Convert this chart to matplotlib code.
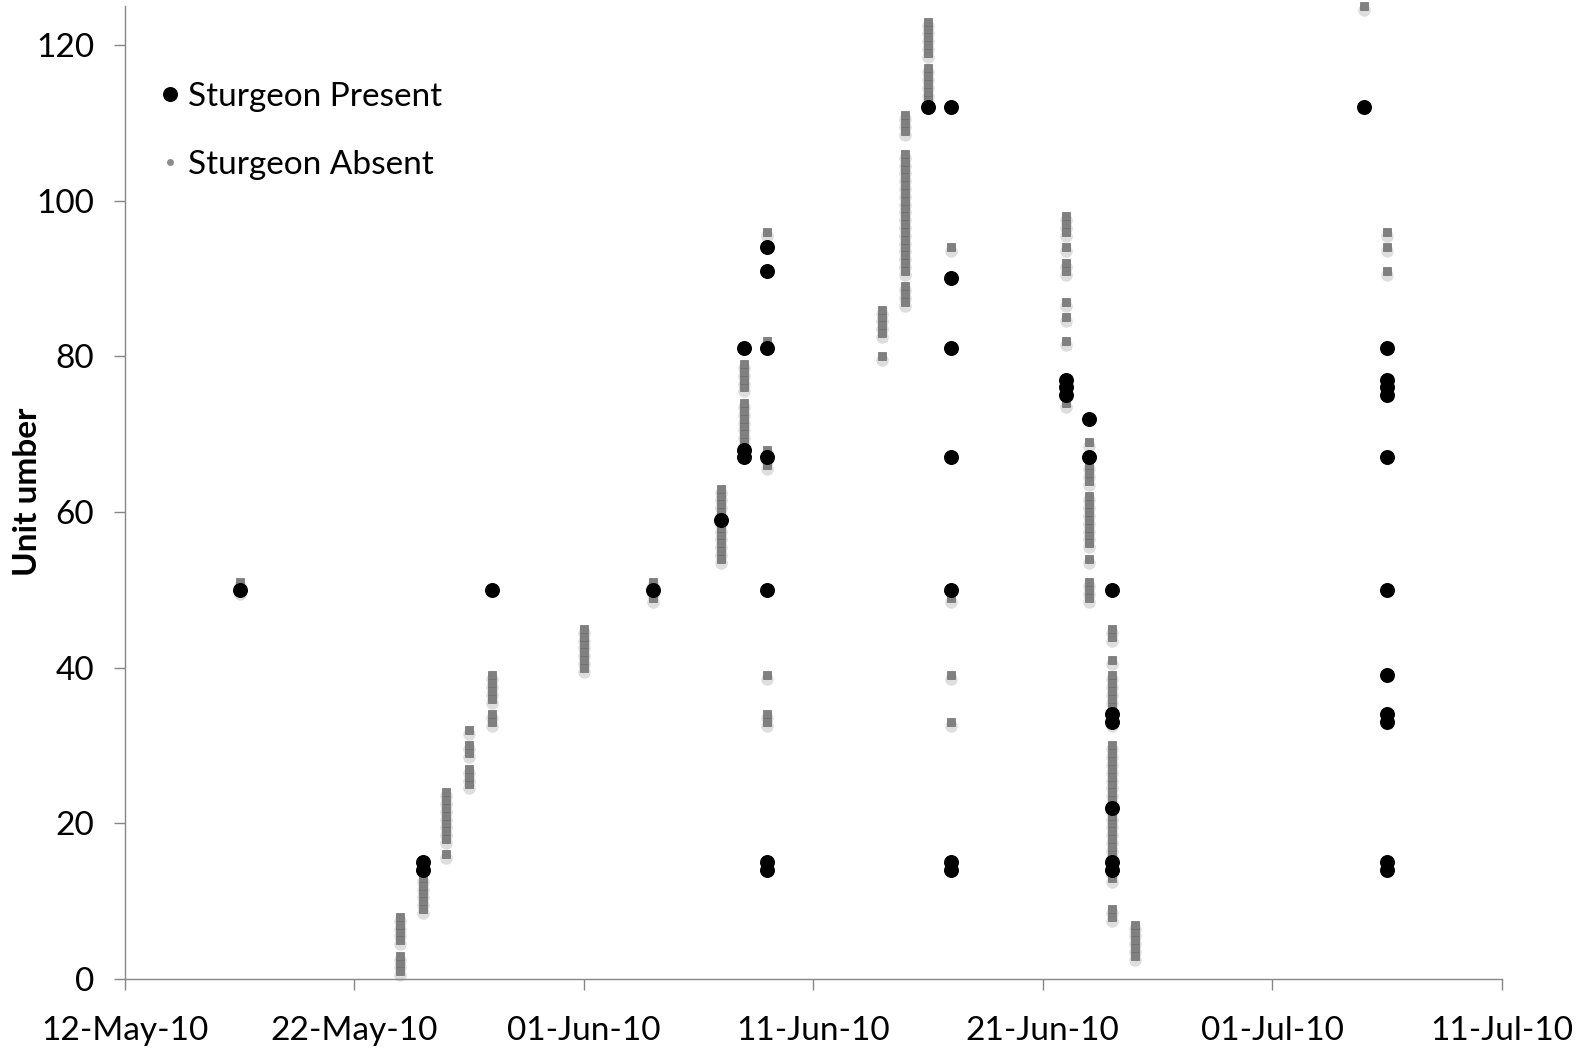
import matplotlib
matplotlib.use("Agg")
import matplotlib.pyplot as plt
import matplotlib.dates as mdates
import matplotlib.transforms as mtransforms
from matplotlib.lines import Line2D
from datetime import datetime

plt.rcParams['font.family'] = ['Lato', 'DejaVu Sans']

# Sturgeon present (black circles): date -> unit numbers
present_dates = ['2010-05-17', '2010-05-25', '2010-05-28', '2010-06-04', '2010-06-07',
                 '2010-06-08', '2010-06-09', '2010-06-16', '2010-06-17', '2010-06-22',
                 '2010-06-23', '2010-06-24', '2010-07-05', '2010-07-06']
present_units = [
    [50],
    [15, 14],
    [50],
    [50],
    [59],
    [81, 68, 67],
    [94, 91, 81, 67, 50, 15, 14],
    [112],
    [112, 90, 81, 67, 50, 15, 14],
    [77, 76, 75],
    [72, 67],
    [50, 34, 33, 22, 15, 14],
    [112],
    [81, 77, 76, 75, 67, 50, 39, 34, 33, 15, 14],
]

# Sturgeon absent (grey squares): date -> unit numbers
absent_dates = ['2010-05-17', '2010-05-24', '2010-05-25', '2010-05-26', '2010-05-27',
                '2010-05-28', '2010-06-01', '2010-06-04', '2010-06-07', '2010-06-08',
                '2010-06-09', '2010-06-14', '2010-06-15', '2010-06-16', '2010-06-17',
                '2010-06-22', '2010-06-23', '2010-06-24', '2010-06-25', '2010-07-05',
                '2010-07-06']
absent_units = [
    [50, 51],
    [1, 2, 3, 5, 6, 7, 8],
    [9, 10, 11, 12, 13],
    [16, 18, 19, 20, 21, 22, 23, 24],
    [25, 26, 27, 29, 30, 32],
    [33, 34, 36, 37, 38, 39],
    [40, 41, 42, 43, 44, 45],
    [49, 50, 51],
    [54, 55, 56, 57, 58, 59, 60, 61, 62, 63],
    [69, 70, 71, 72, 73, 74, 76, 77, 78, 79],
    [96, 82, 66, 67, 68, 39, 33, 34],
    [80, 83, 84, 85, 86],
    [87, 88, 89, 91, 92, 93, 94, 95, 96, 97, 98, 99, 100, 101, 102, 103, 104, 105, 106,
     109, 110, 111],
    [113, 114, 115, 116, 117, 119, 120, 121, 122, 123],
    [94, 49, 39, 33],
    [96, 97, 98, 94, 91, 92, 87, 85, 82, 74],
    [69, 65, 66, 64, 56, 57, 58, 59, 60, 61, 62, 54, 51, 50, 49],
    [44, 45, 41, 35, 36, 37, 38, 39, 33, 34, 13, 14, 15, 16, 17, 18, 19, 20, 21, 22, 23,
     24, 25, 26, 27, 28, 29, 30, 8, 9],
    [3, 4, 5, 6, 7],
    [125],
    [96, 94, 91],
]

x_ticks = ['2010-05-12', '2010-05-22', '2010-06-01', '2010-06-11', '2010-06-21',
           '2010-07-01', '2010-07-11']
y_ticks = [0, 20, 40, 60, 80, 100, 120]


def expand(dates, units):
    xs, ys = [], []
    for d, vals in zip(dates, units):
        for v in vals:
            xs.append(datetime.strptime(d, '%Y-%m-%d'))
            ys.append(v)
    return xs, ys


px, py = expand(present_dates, present_units)
ax_, ay = expand(absent_dates, absent_units)

W, H = 1591, 1051
fig = plt.figure(figsize=(W / 100, H / 100), dpi=100)
ax = fig.add_axes([124.8 / W, 1 - 979 / H, (1501.7 - 124.8) / W, (979 - 6) / H])

# soft shadow under the grey squares
shadow = mtransforms.offset_copy(ax.transData, fig=fig, x=0, y=-4, units='dots')
ax.plot(ax_, ay, ls='', marker='o', markersize=9, color='#c8c8c8', alpha=0.6,
        markeredgewidth=0, transform=shadow, clip_on=False, zorder=1)
ax.plot(ax_, ay, ls='', marker='s', markersize=6.4, color='#808080',
        markeredgecolor='#6c6c6c', markeredgewidth=0.5, clip_on=False, zorder=2)
ax.plot(px, py, ls='', marker='o', markersize=10.8, color='black',
        markeredgewidth=0, clip_on=False, zorder=3)

ax.set_xlim(datetime(2010, 5, 12), datetime(2010, 7, 11))
ax.set_ylim(0, 125)
ax.set_xticks([datetime.strptime(t, '%Y-%m-%d') for t in x_ticks])
ax.xaxis.set_major_formatter(mdates.DateFormatter('%d-%b-%y'))
ax.set_yticks(y_ticks)

for s in ['top', 'right']:
    ax.spines[s].set_visible(False)
for s in ['left', 'bottom']:
    ax.spines[s].set_color('#868686')
    ax.spines[s].set_linewidth(1.0)

ax.tick_params(axis='both', labelsize=24, length=8, width=1.0, color='#868686',
               direction='out')
ax.tick_params(axis='y', pad=14)
ax.tick_params(axis='x', pad=18.5)

fig.text(27.4 / W, 1 - 492 / H, 'Unit umber', rotation=90, ha='center', va='center',
         fontsize=24, fontweight='bold')

handles = [
    Line2D([], [], ls='', marker='o', markersize=10.8, color='black', markeredgewidth=0),
    Line2D([], [], ls='', marker='o', markersize=5, color='#8c8c8c', markeredgewidth=0),
]
ax.legend(handles, ['Sturgeon Present', 'Sturgeon Absent'], loc='upper left',
          bbox_to_anchor=(162 / W, 1 - 82 / H), bbox_transform=fig.transFigure,
          frameon=False, fontsize=24, handlelength=0.45, handletextpad=0.32,
          labelspacing=1.14, borderpad=0, borderaxespad=0)

fig.savefig('out.png', dpi=100)
